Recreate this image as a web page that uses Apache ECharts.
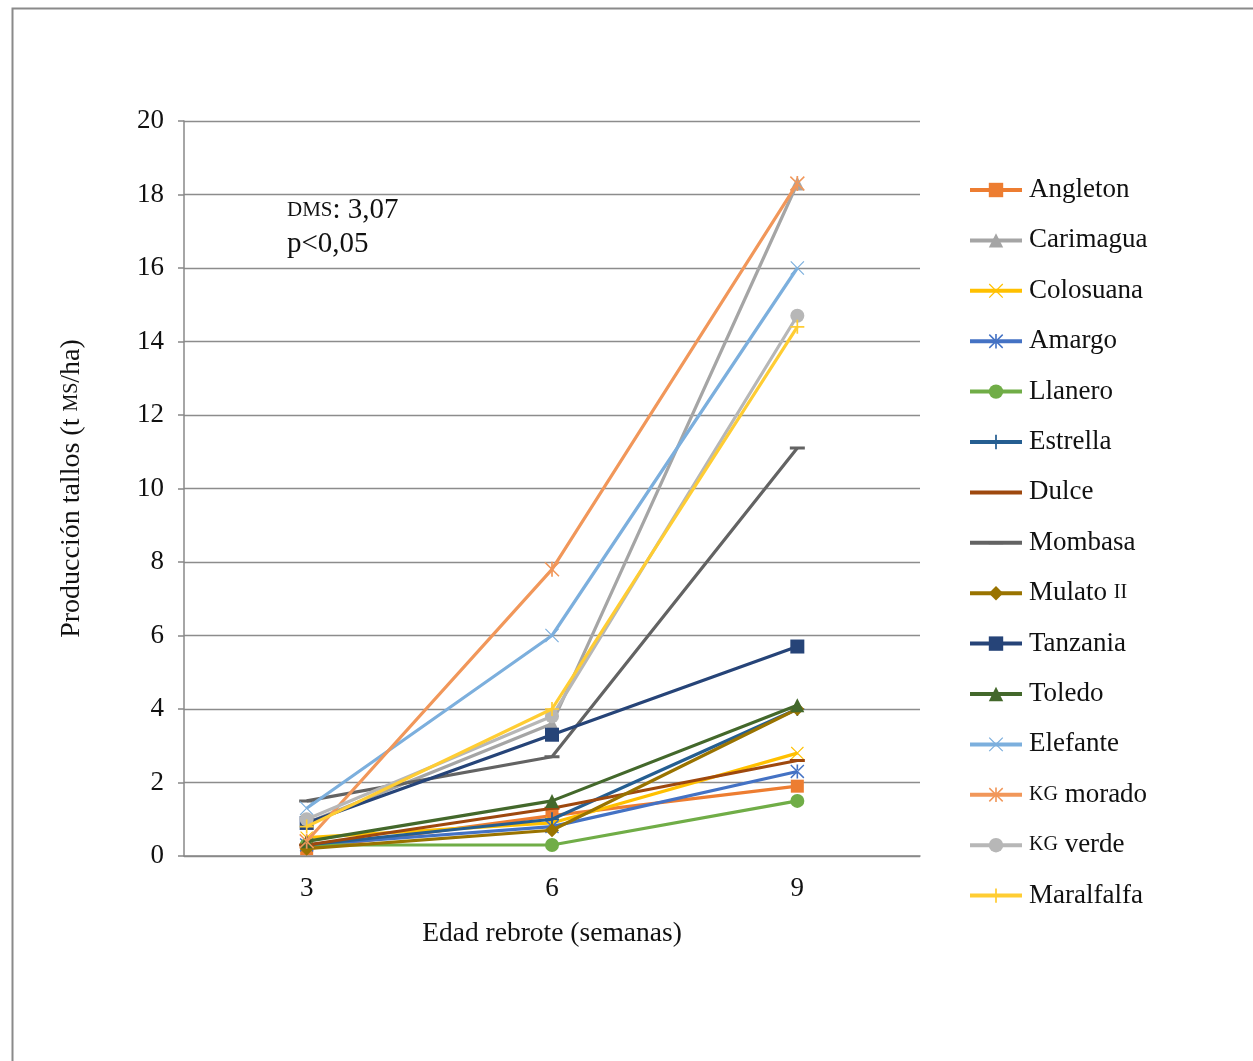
<!DOCTYPE html>
<html><head><meta charset="utf-8">
<script src="https://cdn.jsdelivr.net/npm/echarts@6/dist/echarts.min.js"></script>
<style>html,body{margin:0;padding:0;background:#fff}#c{width:1253px;height:1061px}</style>
</head><body><div id="c"></div>
<script>
const categories = ['3', '6', '9'];
const seriesNames = ['Angleton','Carimagua','Colosuana','Amargo','Llanero','Estrella','Dulce','Mombasa','Mulato II','Tanzania','Toledo','Elefante','KG morado','KG verde','Maralfalfa'];
const angleton   = [0.2, 1.1, 1.9];
const carimagua  = [0.9, 3.6, 18.3];
const colosuana  = [0.5, 0.9, 2.8];
const amargo     = [0.3, 0.8, 2.3];
const llanero    = [0.3, 0.3, 1.5];
const estrella   = [0.3, 1.0, 4.0];
const dulce      = [0.3, 1.3, 2.6];
const mombasa    = [1.5, 2.7, 11.1];
const mulato     = [0.2, 0.7, 4.0];
const tanzania   = [0.9, 3.3, 5.7];
const toledo     = [0.4, 1.5, 4.1];
const elefante   = [1.3, 6.0, 16.0];
const kgMorado   = [0.4, 7.8, 18.3];
const kgVerde    = [1.0, 3.8, 14.7];
const maralfalfa = [0.8, 4.0, 14.4];
const yTicks = [0, 2, 4, 6, 8, 10, 12, 14, 16, 18, 20];

const seriesData = [angleton, carimagua, colosuana, amargo, llanero, estrella, dulce, mombasa, mulato, tanzania, toledo, elefante, kgMorado, kgVerde, maralfalfa];
const colors = ['#ED7D31','#A5A5A5','#FFC000','#4472C4','#70AD47','#255E91','#9E480E','#636363','#997300','#264478','#43682B','#7CAFDD','#F1975A','#B7B7B7','#FFCD33'];

const PLUS = 'path://M4.4,0H5.6V4.4H10V5.6H5.6V10H4.4V5.6H0V4.4H4.4Z';
const XMARK = 'path://M0.6,0L5,4.4L9.4,0L10,0.6L5.6,5L10,9.4L9.4,10L5,5.6L0.6,10L0,9.4L4.4,5L0,0.6Z';
const STAR = 'path://M4.5,0H5.5V10H4.5Z M0.6,0.8L1.2,0L9.4,9.2L8.8,10Z M9.4,0.8L8.8,0L0.6,9.2L1.2,10Z';
const DASH = 'path://M0,0L0.01,0 M0,4H10V6H0Z M10,10L9.99,10';
const symbols = [
  ['rect', 13], ['triangle', 14], [XMARK, 13], [STAR, 14], ['circle', 14], [PLUS, 14],
  [DASH, 15], [DASH, 15], ['diamond', 14], ['rect', 14], ['triangle', 14],
  [XMARK, 14], [STAR, 15], ['circle', 14], [PLUS, 14]
];

const FONT = '"Liberation Serif", "DejaVu Serif", serif';
const chart = echarts.init(document.getElementById('c'), null, {renderer: 'canvas'});

const series = seriesNames.map((n, i) => ({
  name: n,
  type: 'line',
  data: seriesData[i],
  symbol: symbols[i][0],
  symbolSize: symbols[i][1],
  showSymbol: true,
  lineStyle: {width: 3.2, color: colors[i]},
  itemStyle: {color: colors[i]},
  z: 2 + i
}));

chart.setOption({
  animation: false,
  color: colors,
  grid: {left: 184, right: 333, top: 121, bottom: 205, containLabel: false},
  xAxis: {
    type: 'category',
    data: categories,
    boundaryGap: true,
    name: 'Edad rebrote (semanas)',
    nameLocation: 'middle',
    nameGap: 64,
    nameTextStyle: {fontFamily: FONT, fontSize: 27.5, color: '#111'},
    axisLine: {lineStyle: {color: '#888', width: 1.5}},
    axisTick: {show: false},
    axisLabel: {fontFamily: FONT, fontSize: 27, color: '#111', margin: 19}
  },
  yAxis: {
    type: 'value',
    min: 0, max: 20, interval: 2,
    name: '{n|Producción tallos (t }{sc|MS}{n|/ha)}',
    nameLocation: 'middle',
    nameGap: 98,
    nameTextStyle: {
      rich: {
        n: {fontFamily: FONT, fontSize: 28, color: '#111'},
        sc: {fontFamily: FONT, fontSize: 20, color: '#111'}
      }
    },
    axisLine: {show: true, lineStyle: {color: '#888', width: 1.5}},
    axisTick: {show: true, length: 6, lineStyle: {color: '#888', width: 1.5}},
    splitLine: {lineStyle: {color: '#8c8c8c', width: 1.3}},
    axisLabel: {fontFamily: FONT, fontSize: 27, color: '#111', margin: 20,
      formatter: v => yTicks.includes(v) ? String(v) : ''}
  },
  legend: {
    orient: 'vertical',
    left: 968,
    top: 175,
    padding: 0,
    itemWidth: 52,
    itemHeight: 18,
    itemGap: 20.4,
    data: seriesNames,
    lineStyle: {width: 4},
    formatter: function (name) {
      if (name.startsWith('KG ')) return '{sc|KG}{t| ' + name.slice(3) + '}';
      if (name === 'Mulato II') return '{t|Mulato }{sc|II}';
      return '{t|' + name + '}';
    },
    textStyle: {
      fontFamily: FONT, fontSize: 27, color: '#111', lineHeight: 30, padding: [0, 0, 0, 2],
      rich: {
        t: {fontFamily: FONT, fontSize: 27, color: '#111', lineHeight: 30},
        sc: {fontFamily: FONT, fontSize: 20, color: '#111', lineHeight: 30}
      }
    }
  },
  graphic: [
    {type: 'rect', left: 10, top: 6, shape: {x: 0, y: 0, width: 1300, height: 1100},
      style: {fill: 'none', stroke: '#8a8a8a', lineWidth: 2}, silent: true, z: -1},
    {type: 'text', left: 287, top: 196,
      style: {text: '{sc|DMS}{t|: 3,07}', rich: {
        sc: {fontFamily: FONT, fontSize: 21, fill: '#111'},
        t: {fontFamily: FONT, fontSize: 29, fill: '#111'}}}},
    {type: 'text', left: 287, top: 230,
      style: {text: 'p<0,05', font: '29px ' + FONT, fill: '#111'}}
  ],
  series: series
});
</script></body></html>
